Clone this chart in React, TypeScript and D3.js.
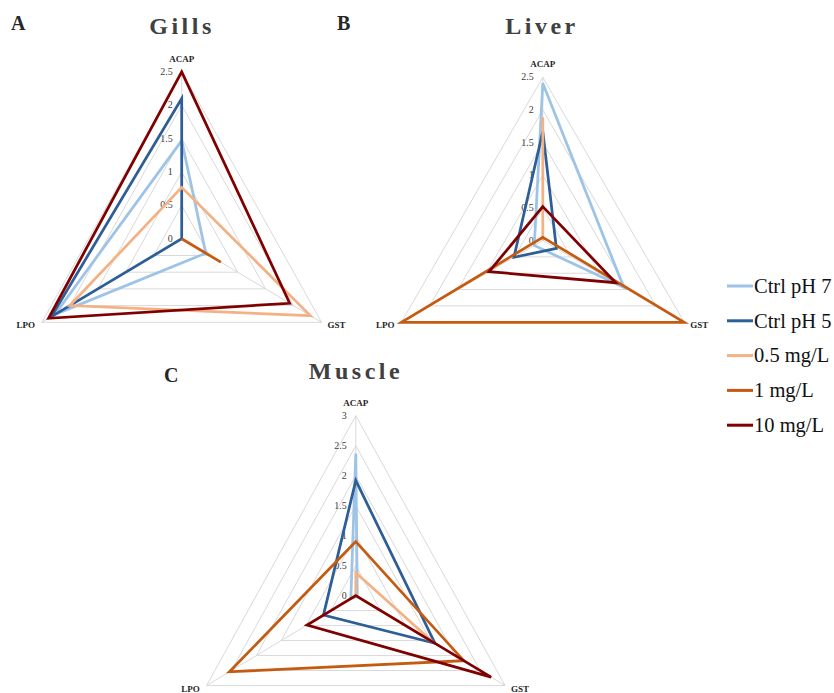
import React from 'react';
import * as d3 from 'd3';

// axes of every radar, clockwise from the top
const axes = ['ACAP', 'GST', 'LPO'];

const seriesNames = ['Ctrl pH 7', 'Ctrl pH 5', '0.5 mg/L', '1 mg/L', '10 mg/L'];
const seriesColors = ['#9DC3E6', '#2E5E97', '#F4B183', '#C55A11', '#7F0000'];

// values per series, in axes order [ACAP, GST, LPO]
const gillsValues = [
  [1.47, 0.43, 2.27],
  [2.1, 0, 2.33],
  [0.77, 2.3, 2.0],
  [0, 0.7, 0],
  [2.5, 1.93, 2.38],
];
const liverValues = [
  [2.41, 1.43, 0.15],
  [1.67, 0.24, 0.51],
  [1.89, 0, 0],
  [0.05, 2.5, 2.5],
  [0.52, 1.29, 0.95],
];
const muscleValues = [
  [2.37, 0.03, 0.1],
  [1.92, 1.59, 0.65],
  [0.38, 1.55, 0],
  [0.9, 2.17, 2.54],
  [0, 2.72, 0.98],
];

const gillsTicks = [0, 0.5, 1, 1.5, 2, 2.5];
const liverTicks = [0, 0.5, 1, 1.5, 2, 2.5];
const muscleTicks = [0, 0.5, 1, 1.5, 2, 2.5, 3];

const serif = '"Liberation Serif", "Times New Roman", serif';

interface PanelProps {
  title: string;
  letter: string;
  values: number[][];
  ticks: number[];
  cx: number;
  cy: number;
  radius: number;
  sx: number;
  titleX: number;
  titleY: number;
  letterX: number;
  letterY: number;
}

const RadarPanel: React.FC<PanelProps> = ({
  title, letter, values, ticks, cx, cy, radius, sx, titleX, titleY, letterX, letterY,
}) => {
  const r = d3.scaleLinear().domain([0, d3.max(ticks) as number]).range([0, radius]);
  const angle = d3.scalePoint<string>().domain(axes).range([0, (2 * Math.PI * 2) / 3]);

  const pt = (axis: string, v: number): [number, number] => {
    const a = angle(axis) as number;
    return [cx + sx * r(v) * Math.sin(a), cy - r(v) * Math.cos(a)];
  };

  const line = d3.line<[number, number]>().curve(d3.curveLinearClosed);
  const maxTick = d3.max(ticks) as number;

  return (
    <g>
      <text x={letterX} y={letterY} fontFamily={serif} fontWeight="bold" fontSize={20} fill="#262626">
        {letter}
      </text>
      <text x={titleX} y={titleY} textAnchor="middle" fontFamily={serif} fontWeight="bold"
        fontSize={24} letterSpacing={3.5} fill="#404040">
        {title}
      </text>

      {/* grid rings */}
      {ticks.filter(t => t > 0).map(t => (
        <path key={t} d={line(axes.map(a => pt(a, t))) || ''} fill="none" stroke="#D9D9D9" strokeWidth={1} />
      ))}
      {/* spokes */}
      {axes.map(a => {
        const [x, y] = pt(a, maxTick);
        return <line key={a} x1={cx} y1={cy} x2={x} y2={y} stroke="#D9D9D9" strokeWidth={1} />;
      })}

      {/* tick labels */}
      {ticks.map(t => (
        <text key={t} x={cx - 9} y={cy - r(t)} dy="0.3em" textAnchor="end" fontFamily={serif}
          fontSize={10} fill="#404040">
          {t}
        </text>
      ))}

      {/* axis labels */}
      {axes.map(a => {
        const [x, y] = pt(a, maxTick);
        let lx = x, ly = y;
        if (a === 'ACAP') ly = y - 10;
        if (a === 'GST') { lx = x + 15; ly = y + 6; }
        if (a === 'LPO') { lx = x - 16; ly = y + 6; }
        return (
          <text key={a} x={lx} y={ly} textAnchor="middle" fontFamily={serif} fontWeight="bold"
            fontSize={9} fill="#262626">
            {a}
          </text>
        );
      })}

      {/* series */}
      {values.map((vals, i) => (
        <path key={seriesNames[i]} d={line(axes.map((a, j) => pt(a, vals[j]))) || ''}
          fill="none" stroke={seriesColors[i]} strokeWidth={2.75} strokeLinejoin="miter" />
      ))}
    </g>
  );
};

const App: React.FC = () => {
  const width = 834;
  const height = 693;
  const legendY = d3.scaleLinear().domain([0, 1]).range([286, 320.8]);

  return (
    <svg width={width} height={height} style={{ position: 'absolute', left: 0, top: 0, background: 'white' }}>
      <rect width={width} height={height} fill="white" />
      <RadarPanel title="Gills" letter="A" values={gillsValues} ticks={gillsTicks}
        cx={181.7} cy={238.8} radius={167} sx={0.967}
        titleX={182} titleY={34} letterX={11} letterY={30} />
      <RadarPanel title="Liver" letter="B" values={liverValues} ticks={liverTicks}
        cx={542.8} cy={240.6} radius={163.3} sx={1.0}
        titleX={542} titleY={34} letterX={337} letterY={30} />
      <RadarPanel title="Muscle" letter="C" values={muscleValues} ticks={muscleTicks}
        cx={355.8} cy={595.6} radius={179.9} sx={0.958}
        titleX={356} titleY={379} letterX={164} letterY={382} />

      {/* legend */}
      {seriesNames.map((name, i) => (
        <g key={name} transform={`translate(727,${legendY(i)})`}>
          <line x1={0} x2={26} y1={0} y2={0} stroke={seriesColors[i]} strokeWidth={3} />
          <text x={27} y={6.8} fontFamily={serif} fontSize={20.5} fill="#111">
            {name}
          </text>
        </g>
      ))}
    </svg>
  );
};

export default App;
